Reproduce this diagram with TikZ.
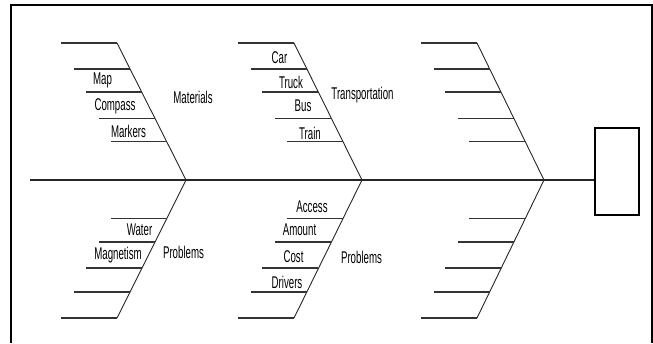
\documentclass[tikz,border=0pt]{standalone}
\usepackage{fontspec}
\newfontfamily\narrowfont[FakeStretch=0.57]{Liberation Sans}
\usetikzlibrary{calc}

\begin{document}
\begin{tikzpicture}[x=1pt,y=-1pt,
  bone/.style={draw=black!85,line width=0.9pt},
  rib/.style={draw=black!80,line width=1.7pt},
  spine/.style={draw=black!85,line width=1.2pt},
  lbl/.style={inner sep=0pt,font=\narrowfont\fontsize{17}{17}\selectfont},
  effect box/.style={draw,line width=2pt,minimum width=44pt,minimum height=87pt,inner sep=0pt}]
  \useasboundingbox (0,0) rectangle (653,343);
  \draw[line width=2.2pt] (11,343) -- (11,5) -- (652,5) -- (652,343);

  \coordinate (tail) at (30,180);
  \coordinate (apex1) at (186,180);
  \coordinate (top1) at (117,43);
  \coordinate (bot1) at (117,318);
  \coordinate (apex2) at (362,180);
  \coordinate (top2) at (294,43);
  \coordinate (bot2) at (294,318);
  \coordinate (apex3) at (544,180);
  \coordinate (top3) at (477,43);
  \coordinate (bot3) at (477,318);
  \node[effect box] (effect) at (617,171.5) {};

  \draw[spine] (tail) -- (tail -| effect.west);

  \foreach \b in {1,2,3} {
    \draw[bone] (top\b) -- (apex\b) -- (bot\b);
    \foreach \t in {0,0.19,0.36,0.55,0.72} {
      \draw[rib] ($(top\b)!\t!(apex\b)$) -- +(-56,0);
      \draw[rib] ($(bot\b)!\t!(apex\b)$) -- +(-56,0);
    }
  }

  \node[lbl] (map) at (102.5,80) {Map};
  \node[lbl] (compass) at (115,106) {Compass};
  \node[lbl] (markers) at (128.5,131) {Markers};
  \node[lbl] (materials) at (193,97) {Materials};
  \node[lbl] (water) at (139.5,230) {Water};
  \node[lbl] (magnetism) at (118,255) {Magnetism};
  \node[lbl] (problemsA) at (183.5,252) {Problems};

  \node[lbl] (car) at (279.5,58) {Car};
  \node[lbl] (truck) at (291,82) {Truck};
  \node[lbl] (bus) at (303,106) {Bus};
  \node[lbl] (train) at (310,133) {Train};
  \node[lbl] (transport) at (362.5,95) {Transportation};
  \node[lbl] (access) at (312,207) {Access};
  \node[lbl] (amount) at (299.5,230) {Amount};
  \node[lbl] (cost) at (293.5,257) {Cost};
  \node[lbl] (drivers) at (287,282) {Drivers};
  \node[lbl] (problemsB) at (361.5,257) {Problems};
\end{tikzpicture}
\end{document}
